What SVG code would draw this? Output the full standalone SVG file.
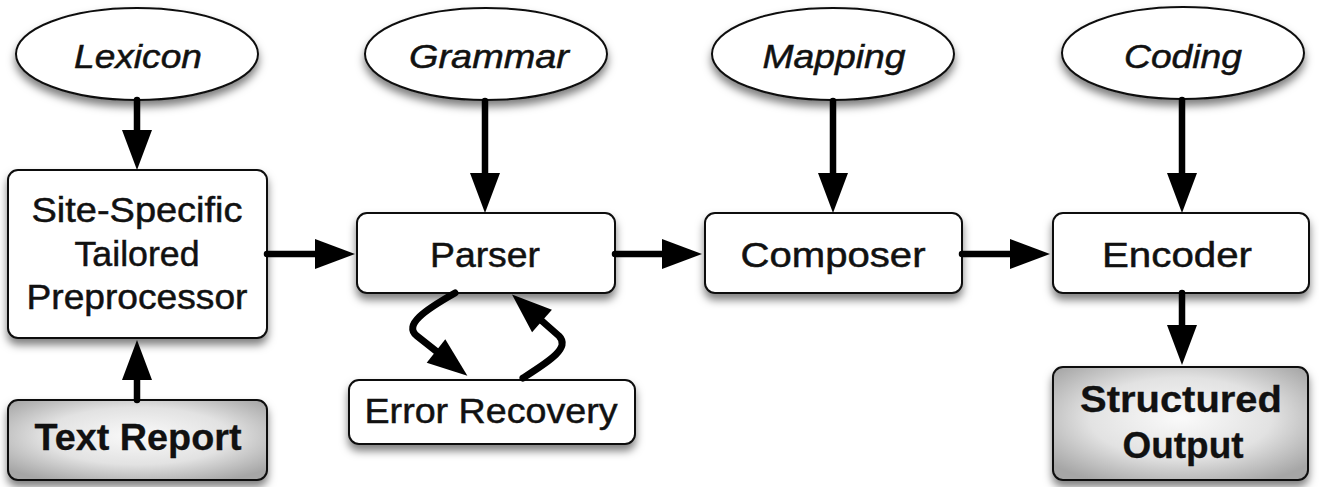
<svg xmlns="http://www.w3.org/2000/svg" width="1319" height="487" viewBox="0 0 1319 487">
  <defs>
    <filter id="shadow" x="-10%" y="-20%" width="120%" height="150%">
      <feDropShadow dx="0" dy="6" stdDeviation="4.5" flood-color="#000" flood-opacity="0.5"/>
    </filter>
    <radialGradient id="grayFill" cx="50%" cy="45%" r="65%">
      <stop offset="0" stop-color="#fafafa"/>
      <stop offset="0.55" stop-color="#e2e2e2"/>
      <stop offset="1" stop-color="#a6a6a6"/>
    </radialGradient>
    <marker id="head" markerUnits="userSpaceOnUse" markerWidth="40" markerHeight="30"
            refX="0" refY="15" orient="auto" overflow="visible">
      <path d="M0,0 L40,15 L0,30 Z" fill="#000"/>
    </marker>
  </defs>
  <style>
    .box { fill: #fff; stroke: #111; stroke-width: 2; filter: url(#shadow); }
    .io { fill: url(#grayFill); stroke: #111; stroke-width: 2; filter: url(#shadow); }
    .res { fill: #fff; stroke: #111; stroke-width: 2; filter: url(#shadow); }
    .lbl { font-family: "Liberation Sans", Arial, sans-serif; font-size: 35px; fill: #111; stroke: #111; stroke-width: 0.5; text-anchor: middle; }
    .bold { font-weight: bold; font-size: 36px; stroke-width: 0.3; }
    .ital { font-style: italic; font-size: 33px; }
    .edge { fill: none; stroke: #000; stroke-width: 6.5; stroke-linecap: round; stroke-linejoin: round; marker-end: url(#head); }
    .loop { stroke-width: 7; }
  </style>
  <rect width="1319" height="487" fill="#fff"/>

  <!-- resources (ellipses) -->
  <g id="lexicon">
    <ellipse class="res" cx="137" cy="54" rx="121" ry="46"/>
    <text class="lbl ital" x="138" y="68" textLength="128" lengthAdjust="spacingAndGlyphs">Lexicon</text>
  </g>
  <g id="grammar">
    <ellipse class="res" cx="486" cy="54" rx="121" ry="46"/>
    <text class="lbl ital" x="489" y="68" textLength="160" lengthAdjust="spacingAndGlyphs">Grammar</text>
  </g>
  <g id="mapping">
    <ellipse class="res" cx="833" cy="54" rx="121" ry="46"/>
    <text class="lbl ital" x="834" y="68" textLength="143" lengthAdjust="spacingAndGlyphs">Mapping</text>
  </g>
  <g id="coding">
    <ellipse class="res" cx="1183" cy="53" rx="121" ry="46"/>
    <text class="lbl ital" x="1183" y="68" textLength="118" lengthAdjust="spacingAndGlyphs">Coding</text>
  </g>

  <!-- processing stages -->
  <g id="preprocessor">
    <rect class="box" x="8" y="170" width="259" height="168" rx="10"/>
    <text class="lbl" x="137" y="222" textLength="211" lengthAdjust="spacingAndGlyphs">Site-Specific</text>
    <text class="lbl" x="137" y="266" textLength="125" lengthAdjust="spacingAndGlyphs">Tailored</text>
    <text class="lbl" x="137" y="309" textLength="221" lengthAdjust="spacingAndGlyphs">Preprocessor</text>
  </g>
  <g id="text-report">
    <rect class="io" x="8" y="400" width="259" height="80" rx="10"/>
    <text class="lbl bold" x="138" y="450" textLength="207" lengthAdjust="spacingAndGlyphs">Text Report</text>
  </g>
  <g id="parser">
    <rect class="box" x="357" y="213" width="258" height="80" rx="10"/>
    <text class="lbl" x="485" y="267" textLength="110" lengthAdjust="spacingAndGlyphs">Parser</text>
  </g>
  <g id="error-recovery">
    <rect class="box" x="349" y="380" width="286" height="64" rx="10"/>
    <text class="lbl" x="491" y="423" textLength="253" lengthAdjust="spacingAndGlyphs">Error Recovery</text>
  </g>
  <g id="composer">
    <rect class="box" x="705" y="213" width="257" height="80" rx="10"/>
    <text class="lbl" x="833" y="267" textLength="185" lengthAdjust="spacingAndGlyphs">Composer</text>
  </g>
  <g id="encoder">
    <rect class="box" x="1053" y="213" width="256" height="80" rx="10"/>
    <text class="lbl" x="1177" y="267" textLength="150" lengthAdjust="spacingAndGlyphs">Encoder</text>
  </g>
  <g id="structured-output">
    <rect class="io" x="1053" y="367" width="255" height="113" rx="10"/>
    <text class="lbl bold" x="1181" y="412" textLength="202" lengthAdjust="spacingAndGlyphs">Structured</text>
    <text class="lbl bold" x="1183" y="458" textLength="121" lengthAdjust="spacingAndGlyphs">Output</text>
  </g>

  <!-- connectors: each path ends at the arrowhead base -->
  <g id="connectors">
    <path class="edge" d="M137,100 L137,130"/>
    <path class="edge" d="M485,101 L485,173"/>
    <path class="edge" d="M833,101 L833,173"/>
    <path class="edge" d="M1182,100 L1182,173"/>
    <path class="edge" d="M137,400 L137,380"/>
    <path class="edge" d="M267,254 L315,254"/>
    <path class="edge" d="M615,254 L662,254"/>
    <path class="edge" d="M962,254 L1010,254"/>
    <path class="edge" d="M1182,293 L1182,325"/>
    <path class="edge loop" d="M455,293 C425,310 403,325 417,336 L436,351"/>
    <path class="edge loop" d="M523,378 C548,362 571,348 559,336 L542,321"/>
  </g>
</svg>
